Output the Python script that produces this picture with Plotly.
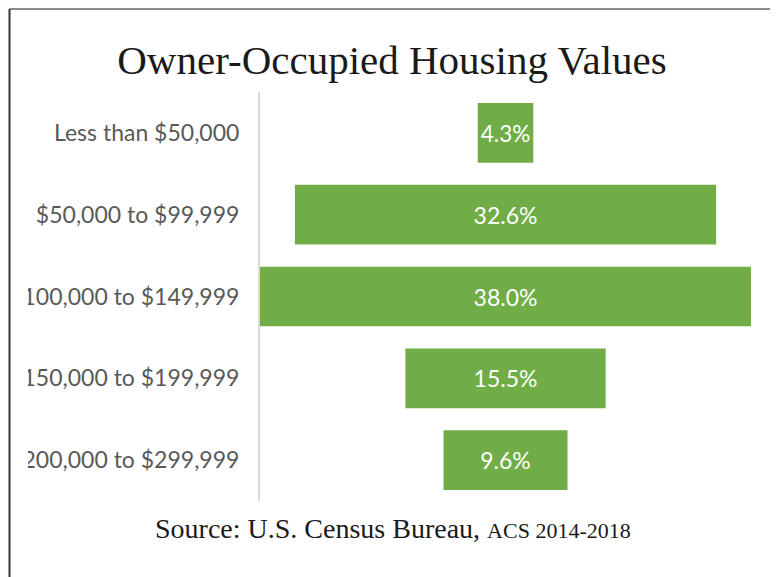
import plotly.graph_objects as go

categories = ["Less than $50,000", "$50,000 to $99,999", "$100,000 to $149,999",
              "$150,000 to $199,999", "$200,000 to $299,999"]
values = [4.3, 32.6, 38.0, 15.5, 9.6]

title_text = "Owner-Occupied Housing Values"
source_main = "Source: U.S. Census Bureau,"
source_small = "ACS 2014-2018"

# the page places the figure after an 8px body margin
OFF = 8
W, H = 778, 577
L, R, T, B = 260 - OFF, 751 - OFF, 92 - OFF, 501 - OFF

def px_x(p):
    p -= OFF
    return (p - L) / (R - L)

def px_y(p):
    p -= OFF
    return (B - p) / (B - T)

fig = go.Figure(go.Funnel(
    y=categories,
    x=values,
    texttemplate="%{x:.1f}%",
    textposition="inside",
    insidetextanchor="middle",
    textfont=dict(family="Lato, Liberation Sans, sans-serif", size=23, color="white"),
    marker=dict(color="#70ad47", line=dict(width=0)),
    connector=dict(visible=False),
    hoverinfo="x+y",
))

fig.update_layout(
    width=W, height=H,
    margin=dict(l=L, r=W - R, t=T, b=H - B, pad=0, autoexpand=False),
    paper_bgcolor="white",
    plot_bgcolor="white",
    funnelgap=0.27,
    showlegend=False,
    title=dict(
        text=title_text,
        font=dict(family="Liberation Serif, Times New Roman, serif", size=41, color="#1a1a1a"),
        x=(392 - OFF) / W, xanchor="center", xref="container",
        y=1 - (60 - OFF) / H, yanchor="middle", yref="container",
    ),
    xaxis=dict(visible=False, range=[-19, 19], fixedrange=True, automargin=False),
    yaxis=dict(
        automargin=False,
        showline=True, linecolor="#d9d9d9", linewidth=2,
        showgrid=False, zeroline=False,
        ticks="outside", ticklen=14, tickcolor="rgba(0,0,0,0)",
        tickfont=dict(family="Lato, Liberation Sans, sans-serif", size=23, color="#595959"),
    ),
    annotations=[dict(
        text=source_main + " <span style='font-size:22px'>" + source_small + "</span>",
        xref="paper", yref="paper",
        x=px_x(393), y=px_y(528), xanchor="center", yanchor="middle",
        showarrow=False,
        font=dict(family="Liberation Serif, Times New Roman, serif", size=28, color="#1a1a1a"),
    )],
    shapes=[
        # white mask clipping the left of the labels
        dict(type="rect", xref="paper", yref="paper", layer="above",
             x0=px_x(0), x1=px_x(28), y0=px_y(600), y1=px_y(0),
             fillcolor="white", line=dict(width=0)),
        # frame
        dict(type="line", xref="paper", yref="paper", layer="above",
             x0=px_x(9.5), x1=px_x(775), y0=px_y(9), y1=px_y(9),
             line=dict(color="#8c8c8c", width=2)),
        dict(type="line", xref="paper", yref="paper", layer="above",
             x0=px_x(9.5), x1=px_x(9.5), y0=px_y(9), y1=px_y(590),
             line=dict(color="#333333", width=2)),
        dict(type="line", xref="paper", yref="paper", layer="above",
             x0=px_x(775), x1=px_x(775), y0=px_y(9), y1=px_y(590),
             line=dict(color="#333333", width=2)),
    ],
)

fig.write_html("out.html")
